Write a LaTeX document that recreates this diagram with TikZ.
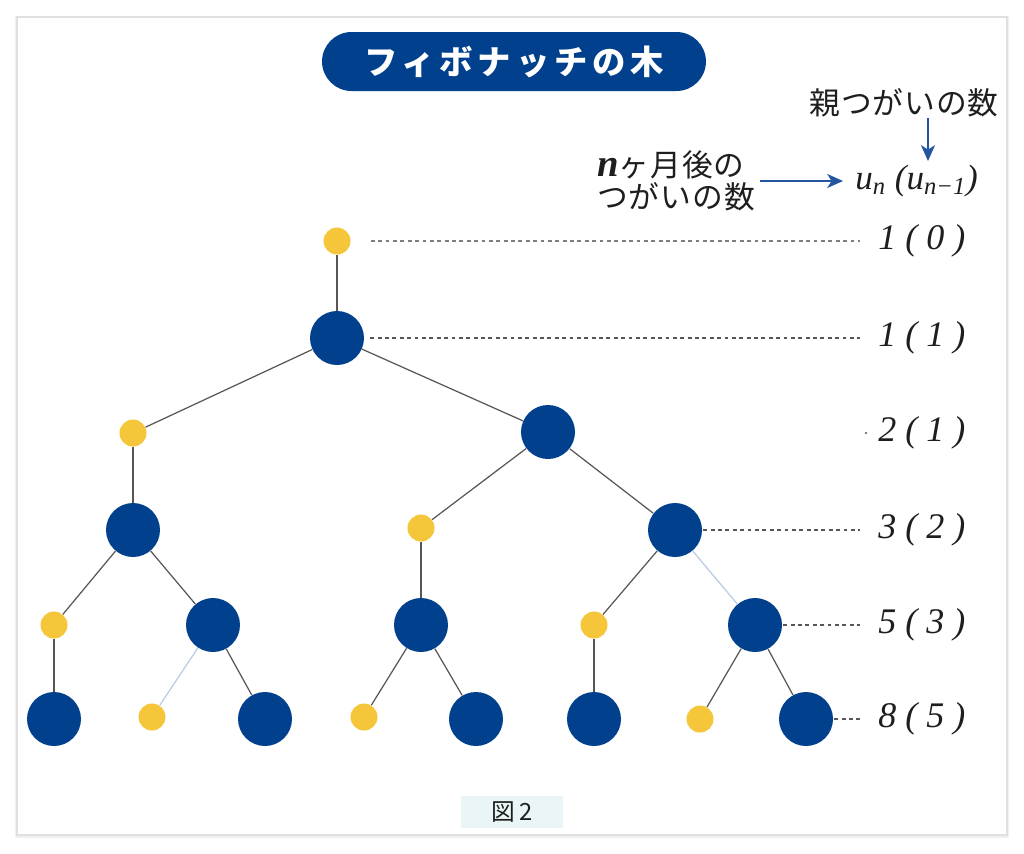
\documentclass[tikz,border=0pt]{standalone}
\usepackage{fontspec}
\setmainfont{Liberation Serif}
\newfontfamily\jp{Noto Sans CJK JP}
\newfontfamily\jptitle[LetterSpace=14]{Noto Sans CJK JP}
\newfontfamily\jpsp[LetterSpace=3]{Noto Sans CJK JP}
\usetikzlibrary{arrows.meta}
\definecolor{nblue}{RGB}{0,64,141}
\definecolor{nyellow}{RGB}{245,198,58}
\definecolor{edgegray}{RGB}{90,85,85}
\definecolor{edgelight}{RGB}{185,204,228}
\definecolor{arrowblue}{RGB}{35,85,160}
\definecolor{capfill}{RGB}{233,245,246}
\definecolor{dashgray}{RGB}{130,125,125}
\definecolor{txt}{RGB}{30,30,30}
\tikzset{
  bnode/.style={circle,fill=nblue,minimum size=1.08cm,inner sep=0pt},
  ynode/.style={circle,fill=nyellow,minimum size=0.54cm,inner sep=0pt},
  edge/.style={draw=edgegray,line width=0.7pt},
  lightedge/.style={draw=edgelight,line width=0.7pt},
  leader/.style={draw=dashgray,line width=0.6pt,dash pattern=on 2.2pt off 2pt},
  countlbl/.style={anchor=west,inner sep=0pt,text=txt,font=\fontsize{20.5}{24}\selectfont\itshape},
  barrow/.style={draw=arrowblue,line width=0.7pt,-{Stealth[length=9pt,width=8pt,inset=2.5pt]}},
}
\begin{document}
\begin{tikzpicture}[x=0.02cm,y=-0.02cm]
\useasboundingbox (0,0) rectangle (1024,853);
\fill[white] (0,0) rectangle (1024,853);
\draw[black!6,line width=2.5pt] (17,18) rectangle (1007,836);
\draw[black!12,line width=0.6pt,fill=white] (17,17) rectangle (1007,835);

% title
\node[fill=nblue,rounded corners=0.59cm,minimum width=7.68cm,minimum height=1.18cm,inner sep=0pt,
  text=white,font=\jptitle\bfseries\fontsize{19}{22}\selectfont] (title) at (514,61.5) {フィボナッチの木};

% header labels
\node[inner sep=0pt,text=txt,font=\jpsp\fontsize{17.5}{20}\selectfont] (parent) at (904,103) {親つがいの数};
\node[inner sep=0pt,anchor=west,text=txt,font=\fontsize{20}{24}\selectfont\itshape] (un) at (855,181)
  {u\textsubscript{n} (u\textsubscript{n−1})};
\node[inner sep=0pt,anchor=west,align=left,text=txt,font=\jpsp\fontsize{17.5}{18.5}\selectfont] (nl) at (597,181)
  {{\fontsize{22}{18.5}\selectfont\bfseries\itshape\rmfamily n}ヶ月後の\\つがいの数};
\draw[barrow] ([xshift=0.1cm]nl.east) -- ([xshift=-0.24cm]un.west);
\draw[barrow] (928,118) -- (928,161);

% nodes
\node[ynode] (y0) at (337,241) {};
\node[bnode] (b1) at (337,338) {};
\node[ynode] (y2a) at (133,433) {};
\node[bnode] (b2b) at (548,432) {};
\node[bnode] (b3a) at (133,530) {};
\node[ynode] (y3b) at (421,528) {};
\node[bnode] (b3c) at (675,530) {};
\node[ynode] (y4a) at (54,625) {};
\node[bnode] (b4b) at (213,625) {};
\node[bnode] (b4c) at (421,625) {};
\node[ynode] (y4d) at (594,625) {};
\node[bnode] (b4e) at (755,625) {};
\node[bnode] (b5a) at (54,719) {};
\node[ynode] (y5b) at (152,717) {};
\node[bnode] (b5c) at (265,719) {};
\node[ynode] (y5d) at (364,717) {};
\node[bnode] (b5e) at (476,719) {};
\node[bnode] (b5f) at (594,719) {};
\node[ynode] (y5g) at (700,719) {};
\node[bnode] (b5h) at (806,719) {};

% edges
\draw[edge] (y0) -- (b1);
\draw[edge] (b1) -- (y2a);
\draw[edge] (b1) -- (b2b);
\draw[edge] (y2a) -- (b3a);
\draw[edge] (b2b) -- (y3b);
\draw[edge] (b2b) -- (b3c);
\draw[edge] (b3a) -- (y4a);
\draw[edge] (b3a) -- (b4b);
\draw[edge] (y3b) -- (b4c);
\draw[edge] (b3c) -- (y4d);
\draw[lightedge] (b3c) -- (b4e);
\draw[edge] (y4a) -- (b5a);
\draw[lightedge] (b4b) -- (y5b);
\draw[edge] (b4b) -- (b5c);
\draw[edge] (b4c) -- (y5d);
\draw[edge] (b4c) -- (b5e);
\draw[edge] (y4d) -- (b5f);
\draw[edge] (b4e) -- (y5g);
\draw[edge] (b4e) -- (b5h);

% count labels
\node[countlbl] (l0) at (878,241) {1 ( 0 )};
\node[countlbl] (l1) at (878,338) {1 ( 1 )};
\node[countlbl] (l2) at (878,433) {2 ( 1 )};
\node[countlbl] (l3) at (878,530) {3 ( 2 )};
\node[countlbl] (l4) at (878,625) {5 ( 3 )};
\node[countlbl] (l5) at (878,719) {8 ( 5 )};

% leaders
\draw[leader] ([xshift=0.4cm]y0.east) -- ([xshift=-0.36cm]l0.west);
\draw[leader,draw=edgegray] ([xshift=0.12cm]b1.east) -- ([xshift=-0.36cm]l1.west);
\draw[leader] ([xshift=-0.26cm]l2.west) -- ([xshift=-0.22cm]l2.west);
\draw[leader,draw=edgegray] ([xshift=0.02cm]b3c.east) -- ([xshift=-0.36cm]l3.west);
\draw[leader,draw=edgegray] ([xshift=0.02cm]b4e.east) -- ([xshift=-0.36cm]l4.west);
\draw[leader,draw=edgegray] ([xshift=0.02cm]b5h.east) -- ([xshift=-0.36cm]l5.west);

% caption
\node[fill=capfill,minimum width=2.04cm,minimum height=0.64cm,inner sep=0pt,text=txt,
  font=\jp\fontsize{13.5}{15}\selectfont] (cap) at (512,812) {図\,2};
\end{tikzpicture}
\end{document}
